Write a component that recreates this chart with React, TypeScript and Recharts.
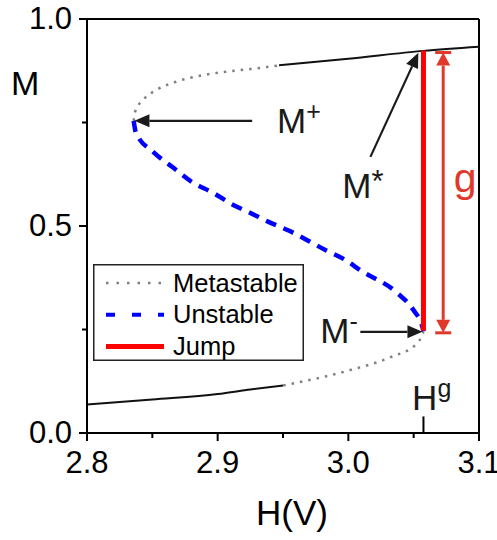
import React from "react";
import {
  ComposedChart,
  Line,
  XAxis,
  YAxis,
  ReferenceLine,
  ReferenceDot,
  Legend,
} from "recharts";

const FONT = '"Liberation Sans", Arial, Helvetica, sans-serif';

// ─── Branches of the M(H) loop ───────────────────────────────────────────────
const upperStable = [
  { H: 2.947, M: 0.888 },
  { H: 3.0, M: 0.904 },
  { H: 3.0575, M: 0.923 },
  { H: 3.1, M: 0.933 },
];
const upperMetastable = [
  { H: 2.8357, M: 0.754 },
  { H: 2.8368, M: 0.776 },
  { H: 2.8431, M: 0.805 },
  { H: 2.8534, M: 0.829 },
  { H: 2.8687, M: 0.849 },
  { H: 2.8866, M: 0.863 },
  { H: 2.907, M: 0.873 },
  { H: 2.925, M: 0.879 },
  { H: 2.947, M: 0.888 },
];
const unstable = [
  { H: 2.8357, M: 0.754 },
  { H: 2.8375, M: 0.725 },
  { H: 2.8506, M: 0.679 },
  { H: 2.8651, M: 0.643 },
  { H: 2.8805, M: 0.606 },
  { H: 2.8966, M: 0.58 },
  { H: 2.9119, M: 0.551 },
  { H: 2.9234, M: 0.534 },
  { H: 2.9389, M: 0.51 },
  { H: 2.9543, M: 0.489 },
  { H: 2.9696, M: 0.464 },
  { H: 2.9824, M: 0.442 },
  { H: 2.9977, M: 0.418 },
  { H: 3.0092, M: 0.393 },
  { H: 3.0375, M: 0.338 },
  { H: 3.0498, M: 0.297 },
  { H: 3.0567, M: 0.256 },
  { H: 3.0575, M: 0.245 },
];
const lowerMetastable = [
  { H: 2.9502, M: 0.115 },
  { H: 2.9762, M: 0.132 },
  { H: 3.0015, M: 0.152 },
  { H: 3.0322, M: 0.183 },
  { H: 3.0529, M: 0.217 },
  { H: 3.0575, M: 0.244 },
];
const lowerStable = [
  { H: 2.8, M: 0.069 },
  { H: 2.85, M: 0.081 },
  { H: 2.9, M: 0.094 },
  { H: 2.925, M: 0.105 },
  { H: 2.9502, M: 0.115 },
];
const jump = [
  { H: 3.0575, M: 0.924 },
  { H: 3.0575, M: 0.247 },
];

const xTicks = [2.8, 2.85, 2.9, 2.95, 3.0, 3.05, 3.1];
const yTicks = [0, 0.25, 0.5, 0.75, 1.0];
const Hg = 3.0575;

// gap arrow and pointer arrows [tail, head]
const gapArrow = { H: 3.0726, from: 0.919, to: 0.242 };
const pointerArrows = [
  [{ x: 2.9264, y: 0.754 }, { x: 2.8363, y: 0.754 }],
  [{ x: 3.0169, y: 0.667 }, { x: 3.0536, y: 0.9185 }],
  [{ x: 3.0092, y: 0.2443 }, { x: 3.0567, y: 0.2443 }],
];
const labels = [
  { H: 2.9454, M: 0.7243, text: "M", sup: "+" },
  { H: 2.9954, M: 0.5677, text: "M", sup: "*" },
  { H: 2.9785, M: 0.2177, text: "M", sup: "-" },
  { H: 3.0488, M: 0.0549, text: "H", sup: "g" },
];

const legendItems = [
  { name: "Metastable", color: "#808080", dash: "2.5 8", width: 2.5 },
  { name: "Unstable", color: "#0000ff", dash: "9 17", width: 4 },
  { name: "Jump", color: "#ff0000", dash: undefined, width: 5 },
];

function XTick(props: any) {
  const { x, y, payload } = props;
  const v = payload.value;
  const major = Math.abs(v * 10 - Math.round(v * 10)) < 1e-6;
  return (
    <g>
      <line x1={x} y1={y} x2={x} y2={y + (major ? 8 : 5)} stroke="#000" strokeWidth={2} />
      {major && (
        <text x={x} y={y + 40} textAnchor="middle" fontSize={31} fontFamily={FONT} fill="#000">
          {v.toFixed(1)}
        </text>
      )}
    </g>
  );
}

function YTick(props: any) {
  const { x, y, payload } = props;
  const v = payload.value;
  const major = Math.abs(v * 2 - Math.round(v * 2)) < 1e-6;
  return (
    <g>
      <line x1={x} y1={y} x2={x - (major ? 8 : 5)} y2={y} stroke="#000" strokeWidth={2} />
      {major && (
        <text x={x - 15} y={y + 10} textAnchor="end" fontSize={31} fontFamily={FONT} fill="#000">
          {v.toFixed(1)}
        </text>
      )}
    </g>
  );
}

function head(x: number, y: number, a: number, L: number, W: number) {
  const bx = x - L * Math.cos(a);
  const by = y - L * Math.sin(a);
  return {
    bx,
    by,
    pts: `${x},${y} ${bx - W * Math.sin(a)},${by + W * Math.cos(a)} ${bx + W * Math.sin(a)},${by - W * Math.cos(a)}`,
  };
}

function PointerArrow(props: any) {
  const { x1, y1, x2, y2 } = props;
  const a = Math.atan2(y2 - y1, x2 - x1);
  const h = head(x2, y2, a, 15, 6.5);
  return (
    <g>
      <line x1={x1} y1={y1} x2={h.bx} y2={h.by} stroke="#1a1a1a" strokeWidth={2.2} />
      <polygon points={h.pts} fill="#1a1a1a" />
    </g>
  );
}

function GapArrow(props: any) {
  const { x1, y1, x2, y2 } = props;
  const c = "#e0382b";
  const top = Math.min(y1, y2);
  const bot = Math.max(y1, y2);
  const hTop = head(x1, top, -Math.PI / 2, 13, 7);
  const hBot = head(x1, bot, Math.PI / 2, 13, 7);
  return (
    <g>
      <line x1={x1} y1={hTop.by} x2={x1} y2={hBot.by} stroke={c} strokeWidth={3} />
      <polygon points={hTop.pts} fill={c} />
      <polygon points={hBot.pts} fill={c} />
      <line x1={x1 - 8} y1={top} x2={x1 + 8} y2={top} stroke={c} strokeWidth={3} />
      <line x1={x1 - 8} y1={bot} x2={x1 + 8} y2={bot} stroke={c} strokeWidth={3} />
    </g>
  );
}

function LegendBox() {
  return (
    <svg width={211} height={97}>
      <rect x={0.75} y={0.75} width={209.5} height={95.5} fill="#fff" stroke="#222" strokeWidth={1.5} />
      {legendItems.map((d, i) => {
        const cy = 19 + i * 31.7;
        return (
          <g key={d.name}>
            <line x1={13} y1={cy} x2={71} y2={cy} stroke={d.color} strokeWidth={d.width} strokeDasharray={d.dash} />
            <text x={80} y={cy + 8.5} fontSize={25.5} fontFamily={FONT} fill="#000">
              {d.name}
            </text>
          </g>
        );
      })}
    </svg>
  );
}

export default function App() {
  return (
    <div style={{ position: "absolute", left: 0, top: 0, background: "#fff" }}>
      <ComposedChart width={497} height={540} margin={{ top: 19, right: 18, left: 0, bottom: 0 }}>
        <XAxis
          type="number"
          dataKey="H"
          domain={[2.8, 3.1]}
          ticks={xTicks}
          interval={0}
          allowDataOverflow
          height={107}
          tickSize={0}
          tickMargin={0}
          tickLine={false}
          tick={<XTick />}
          axisLine={{ stroke: "#000", strokeWidth: 2 }}
          label={{
            content: (p: any) => (
              <text
                x={p.viewBox.x + p.viewBox.width / 2 + 9}
                y={p.viewBox.y + 92}
                textAnchor="middle"
                fontSize={35}
                fontFamily={FONT}
                fill="#000"
              >
                H(V)
              </text>
            ),
          }}
        />
        <YAxis
          type="number"
          dataKey="M"
          domain={[0, 1]}
          ticks={yTicks}
          interval={0}
          allowDataOverflow
          width={87}
          tickSize={0}
          tickMargin={0}
          tickLine={false}
          tick={<YTick />}
          axisLine={{ stroke: "#000", strokeWidth: 2 }}
          label={{
            content: (p: any) => (
              <text x={p.viewBox.x + 11} y={p.viewBox.y + 76} fontSize={34} fontFamily={FONT} fill="#000">
                M
              </text>
            ),
          }}
        />
        <ReferenceLine y={1} stroke="#000" strokeWidth={2} />
        <ReferenceLine x={3.1} stroke="#000" strokeWidth={2} />
        <ReferenceLine
          segment={[
            { x: Hg, y: 0 },
            { x: Hg, y: 0.04 },
          ]}
          stroke="#000"
          strokeWidth={2}
        />

        <Line data={upperStable} dataKey="M" type="monotone" stroke="#111" strokeWidth={2} dot={false} isAnimationActive={false} />
        <Line data={lowerStable} dataKey="M" type="monotone" stroke="#111" strokeWidth={2} dot={false} isAnimationActive={false} />
        <Line data={upperMetastable} dataKey="M" type="monotone" stroke="#808080" strokeWidth={2.5} strokeDasharray="2.5 6" dot={false} isAnimationActive={false} />
        <Line data={lowerMetastable} dataKey="M" type="monotone" stroke="#808080" strokeWidth={2.5} strokeDasharray="2.5 6" dot={false} isAnimationActive={false} />
        <Line data={unstable} dataKey="M" type="monotone" stroke="#0000ff" strokeWidth={4.5} strokeDasharray="11 8" dot={false} isAnimationActive={false} />
        <Line data={jump} dataKey="M" type="linear" stroke="#ff0000" strokeWidth={5} dot={false} isAnimationActive={false} />

        {pointerArrows.map((seg, i) => (
          <ReferenceLine key={i} segment={seg} shape={<PointerArrow />} />
        ))}
        <ReferenceLine
          segment={[
            { x: gapArrow.H, y: gapArrow.from },
            { x: gapArrow.H, y: gapArrow.to },
          ]}
          shape={<GapArrow />}
        />

        {labels.map((l) => (
          <ReferenceDot
            key={l.sup}
            x={l.H}
            y={l.M}
            r={0}
            shape={(p: any) => (
              <text x={p.cx} y={p.cy} fontSize={35} fontFamily={FONT} fill="#1a1a1a">
                {l.text}
                <tspan dy={l.sup === "*" ? -6 : -13} fontSize={l.sup === "*" ? 31 : 25}>
                  {l.sup}
                </tspan>
              </text>
            )}
          />
        ))}
        <ReferenceDot
          x={3.0807}
          y={0.581}
          r={0}
          shape={(p: any) => (
            <text x={p.cx} y={p.cy} fontSize={41} fontFamily={FONT} fill="#e0382b">
              g
            </text>
          )}
        />

        <Legend
          layout="vertical"
          align="center"
          verticalAlign="middle"
          wrapperStyle={{ left: 93, top: 264, width: 211, height: 97 }}
          content={() => <LegendBox />}
        />
      </ComposedChart>
    </div>
  );
}
